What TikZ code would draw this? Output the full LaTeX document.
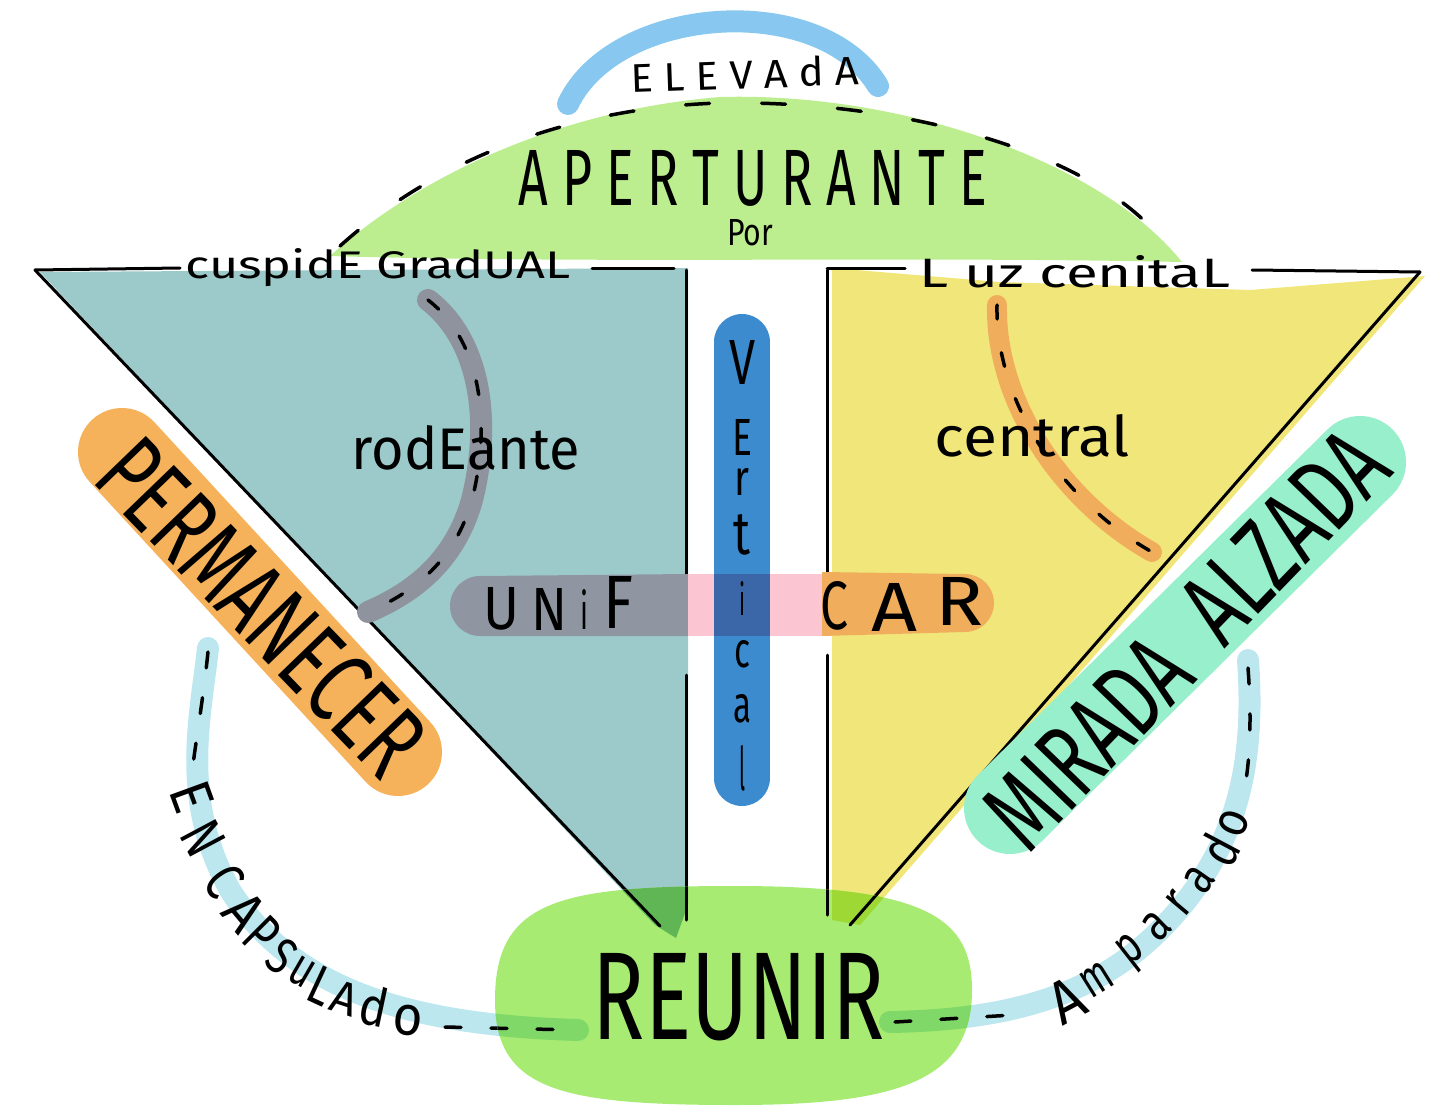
\documentclass[tikz,border=0pt]{standalone}
\usepackage{fontspec}
\setmainfont{Fira Sans}
\usetikzlibrary{calc}
\newcommand\hw[3]{\resizebox{#1pt}{#2pt}{#3}}
\definecolor{arcblue}{HTML}{88C8F0}
\definecolor{domegreen}{HTML}{BCEE90}
\definecolor{tealfill}{HTML}{9CCACA}
\definecolor{yelfill}{HTML}{F1E67A}
\definecolor{pillblue}{HTML}{3D8BCF}
\definecolor{bandgrey}{HTML}{8F96A1}
\definecolor{curvegrey}{HTML}{8F939D}
\definecolor{bandpink}{HTML}{FBC5D1}
\definecolor{bandorange}{HTML}{F0AE5D}
\definecolor{permorange}{HTML}{F6B25B}
\definecolor{mint}{HTML}{97EFCC}
\definecolor{reungreen}{HTML}{A8EB73}
\definecolor{darkgreenL}{HTML}{60B555}
\definecolor{darkgreenR}{HTML}{9DD834}
\definecolor{crossblue}{HTML}{3B67A8}
\definecolor{lightcurve}{HTML}{BDE7EF}
\definecolor{overgreen}{HTML}{7FD867}
\tikzset{
  inkline/.style={line width=3pt, line cap=round, black},
  dashink/.style={line width=3.5pt, line cap=round, black, dash pattern=on 16pt off 30pt},
  domedash/.style={line width=3.5pt, line cap=round, black, dash pattern=on 24pt off 52pt},
  curvedash/.style={line width=3.5pt, line cap=round, black, dash pattern=on 14pt off 34pt},
  brush/.style={line width=#1, line cap=round},
  lbl/.style={inner sep=0pt, text=black},
}
\begin{document}
\begin{tikzpicture}[x=1pt,y=-1pt]
\useasboundingbox (0,0) rectangle (1449,1108);

% dome
\fill[domegreen] (330,256) .. controls (420,175) and (560,110) .. (720,97)
  .. controls (900,92) and (1100,160) .. (1182,262)
  .. controls (900,256) and (600,264) .. (330,256) -- cycle;
\draw[domedash] (340,246) .. controls (430,165) and (560,108) .. (720,103)
  .. controls (900,100) and (1090,150) .. (1162,240);

% top arc
\draw[arcblue, brush=22pt] (568,104) .. controls (615,5) and (820,-10) .. (878,86);

% triangles
\fill[tealfill] (40,272) -- (688,268) -- (688,905) -- (676,938) -- (655,925) -- cycle;
\fill[yelfill] (832,268) -- (1000,282) -- (1250,290) -- (1425,276) -- (860,925) -- (832,920) -- cycle;

% black lines
\draw[inkline] (35,270) -- (180,268);
\draw[inkline] (592,268) -- (674,268);
\draw[inkline] (686,270) -- (686,590);
\draw[inkline] (686,675) -- (686,920);
\draw[inkline] (35,270) -- (660,926);
\draw[inkline] (827,270) -- (827,592);
\draw[inkline] (827,655) -- (827,915);
\draw[inkline] (827,268) -- (905,268);
\draw[inkline] (1252,270) -- (1420,272);
\draw[inkline] (1420,272) -- (850,925);

% rodeante curve
\draw[curvegrey, brush=22pt] (428,300) .. controls (480,340) and (492,420) .. (472,500)
  .. controls (455,560) and (415,592) .. (368,612);
\draw[curvedash] (428,300) .. controls (480,340) and (492,420) .. (472,500)
  .. controls (455,560) and (415,592) .. (368,612);

% central curve
\draw[bandorange, brush=20pt] (997,305) .. controls (995,400) and (1060,500) .. (1152,552);
\draw[curvedash] (997,305) .. controls (995,400) and (1060,500) .. (1152,552);

% unificar band
\fill[bandgrey] (688,574) -- (480,576) arc[start angle=90, end angle=270, radius=30pt] -- (688,636) -- cycle;
\fill[bandpink] (688,574) rectangle (822,636);
\fill[bandorange] (822,636) -- (965,632) arc[start angle=-90, end angle=90, radius=29pt] -- (822,572) -- cycle;

% vertical pill
\draw[pillblue, brush=56pt] (742,342) -- (742,778);
\fill[crossblue] (714,574) rectangle (770,636);

% pills
\draw[permorange, brush=88pt] (122,452) -- (398,752);
\draw[mint, brush=92pt] (1010,808) -- (1360,462);

% light blue curves
\draw[lightcurve, brush=22pt] (208,648) .. controls (200,720) and (180,800) .. (230,890)
  .. controls (290,985) and (400,1025) .. (578,1030);
\draw[lightcurve, brush=22pt] (1248,660) .. controls (1255,760) and (1240,850) .. (1160,930)
  .. controls (1100,990) and (1020,1020) .. (890,1022);
\draw[dashink] (208,652) .. controls (203,700) and (196,740) .. (193,765);
\draw[dashink] (445,1027) -- (575,1030);
\draw[dashink] (1248,668) .. controls (1252,720) and (1250,770) .. (1242,800);
\draw[dashink] (895,1022) -- (1030,1014);

% reunir blob
\def\blob{(495,1000) .. controls (495,900) and (560,886) .. (735,886)
  .. controls (930,886) and (972,920) .. (972,990)
  .. controls (972,1080) and (900,1105) .. (735,1105)
  .. controls (560,1105) and (495,1090) .. (495,1000) -- cycle}
\fill[reungreen] \blob;
\begin{scope}
  \clip \blob;
  \fill[darkgreenL] (40,272) -- (688,268) -- (688,905) -- (676,938) -- (655,925) -- cycle;
  \fill[darkgreenR] (832,268) -- (1425,276) -- (860,925) -- (832,920) -- cycle;
  \draw[overgreen, brush=22pt] (230,890) .. controls (290,985) and (400,1025) .. (578,1030);
  \draw[overgreen, brush=22pt] (1160,930) .. controls (1100,990) and (1020,1020) .. (890,1022);
  \draw[dashink] (445,1027) -- (575,1030);
  \draw[dashink] (895,1022) -- (1030,1014);
  \draw[inkline] (686,675) -- (686,920);
  \draw[inkline] (35,270) -- (660,926);
  \draw[inkline] (827,655) -- (827,915);
  \draw[inkline] (1420,272) -- (850,925);
\end{scope}

% texts
\node[lbl, rotate=2] (elevada) at (745,74) {\hw{228}{30}{E L E V A d A}};
\node[lbl] (apert) at (753,178) {\hw{468}{55}{A P E R T U R A N T E}};
\node[lbl] (por) at (750,233) {\hw{46}{26}{Por}};
\node[lbl] (cuspide) at (378,268) {\hw{385}{30}{cuspidE GradUAL}};
\node[lbl] (luz) at (1075,272) {\hw{310}{32}{L uz cenitaL}};
\node[lbl] (rodeante) at (466,448) {\hw{228}{44}{rodEante}};
\node[lbl] (central) at (1032,436) {\hw{195}{42}{central}};

\node[lbl] (vV) at (742,362) {\hw{26}{44}{V}};
\node[lbl] (vE) at (742,437) {\hw{20}{36}{E}};
\node[lbl] (vr) at (742,482) {\hw{15}{27}{r}};
\node[lbl] (vt) at (742,535) {\hw{17}{40}{t}};
\node[lbl] (vi) at (742,598) {\hw{6}{34}{i}};
\node[lbl] (vc) at (742,654) {\hw{16}{27}{c}};
\node[lbl] (va) at (742,709) {\hw{18}{28}{a}};
\node[lbl] (vl) at (742,768) {\hw{6}{45}{l}};

\node[lbl] (uU) at (502,609) {\hw{36}{42}{U}};
\node[lbl] (uN) at (549,609) {\hw{36}{42}{N}};
\node[lbl] (ui) at (584,609) {\hw{8}{40}{i}};
\node[lbl] (uF) at (618,602) {\hw{30}{52}{F}};
\node[lbl] (uC) at (834,606) {\hw{28}{48}{C}};
\node[lbl] (uA) at (895,607) {\hw{46}{48}{A}};
\node[lbl] (uR) at (960,601) {\hw{48}{48}{R}};

\node[lbl, rotate=-46] (perm) at (262,607) {\hw{420}{72}{PERMANECER}};
\node[lbl, rotate=46] (mirada) at (1088,742) {\hw{245}{72}{MIRADA}};
\node[lbl, rotate=46] (alzada) at (1284,536) {\hw{245}{72}{ALZADA}};

\node[lbl] (reunir) at (739,997) {\hw{292}{86}{REUNIR}};

% encapsulado
\node[lbl, rotate=-70] (e1) at (192,797) {\hw{28}{40}{E}};
\node[lbl, rotate=-62] (e2) at (203,838) {\hw{30}{40}{N}};
\node[lbl, rotate=-55] (e3) at (224,881) {\hw{24}{40}{C}};
\node[lbl, rotate=-50] (e4) at (244,912) {\hw{30}{40}{A}};
\node[lbl, rotate=-45] (e5) at (262,935) {\hw{24}{40}{P}};
\node[lbl, rotate=-38] (e6) at (282,956) {\hw{22}{36}{S}};
\node[lbl, rotate=-30] (e7) at (302,972) {\hw{22}{28}{u}};
\node[lbl, rotate=-25] (e8) at (322,986) {\hw{22}{38}{L}};
\node[lbl, rotate=-18] (e9) at (345,998) {\hw{26}{32}{A}};
\node[lbl, rotate=-12] (e10) at (374,1006) {\hw{28}{40}{d}};
\node[lbl, rotate=-6] (e11) at (408,1020) {\hw{30}{30}{o}};

% amparado
\node[lbl, rotate=28] (a1) at (1067,1000) {\hw{32}{42}{A}};
\node[lbl, rotate=32] (a2) at (1097,980) {\hw{30}{28}{m}};
\node[lbl, rotate=38] (a3) at (1133,953) {\hw{22}{28}{p}};
\node[lbl, rotate=44] (a4) at (1157,926) {\hw{22}{28}{a}};
\node[lbl, rotate=50] (a5) at (1179,903) {\hw{16}{28}{r}};
\node[lbl, rotate=55] (a6) at (1200,880) {\hw{22}{28}{a}};
\node[lbl, rotate=62] (a7) at (1219,850) {\hw{26}{40}{d}};
\node[lbl, rotate=68] (a8) at (1234,823) {\hw{26}{28}{o}};
\end{tikzpicture}
\end{document}
